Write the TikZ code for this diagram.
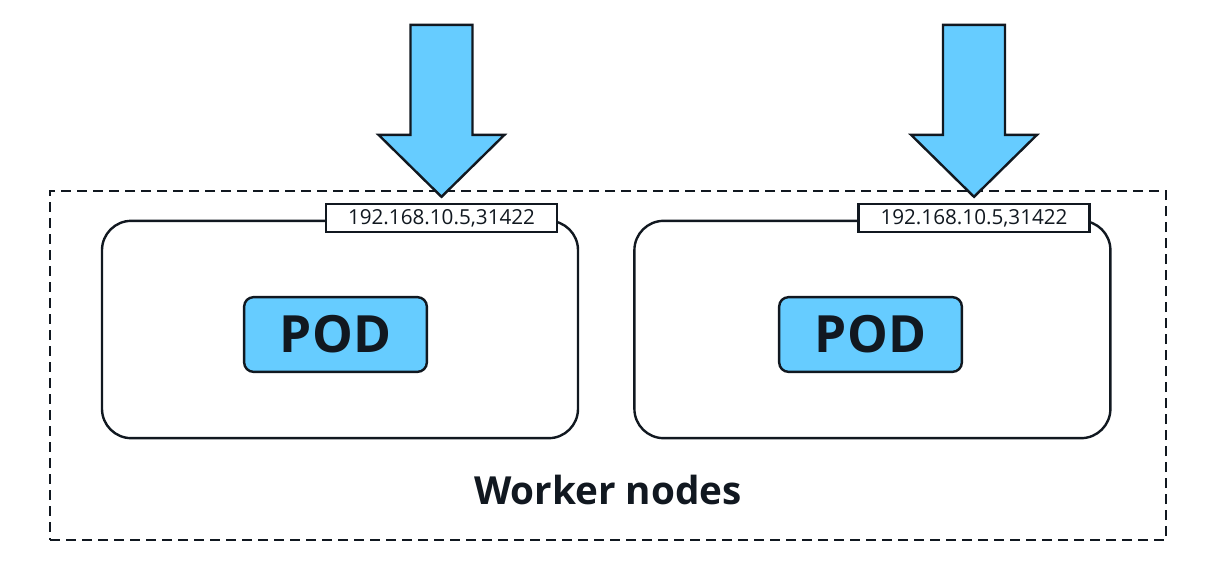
\documentclass[tikz,border=0pt]{standalone}
\usepackage{fontspec}
\setmainfont{Open Sans}
\usetikzlibrary{positioning}
\definecolor{podblue}{HTML}{66CCFF}
\definecolor{ink}{HTML}{111820}

\begin{document}
\begin{tikzpicture}[x=0.75pt,y=-0.75pt,text=ink,
  wnode/.style={draw=ink,line width=1.8pt,rounded corners=22pt,minimum width=357pt,minimum height=163pt},
  pod/.style={draw=ink,fill=podblue,line width=1.8pt,rounded corners=7pt,minimum width=137pt,minimum height=56pt,inner sep=0pt,font=\bfseries\fontsize{38.5}{40}\selectfont},
  lbl/.style={draw=ink,fill=white,line width=1.8pt,minimum width=173pt,minimum height=21pt,inner sep=0pt,font=\fontsize{15.5}{17}\selectfont},
  bigarrow/.style={draw=ink,fill=podblue,line width=1.8pt,line join=miter}]
  \useasboundingbox (0,0) rectangle (1210,564);
  % cluster of worker nodes
  \node[draw=ink,line width=1.1pt,dash pattern=on 7.5pt off 4.5pt,minimum width=837pt,minimum height=261.75pt] (workers) at (608,365.5) {};
  \node[font=\bfseries\fontsize{29}{32}\selectfont] (wlbl) at (608,490) {Worker nodes};
  \node[wnode] (nodeL) at (340,329.5) {};
  \node[wnode,right=40.5pt of nodeL] (nodeR) {};
  \node[pod] (podL) at (335.5,334.5) {POD};
  \node[pod] (podR) at (870.5,334.5) {POD};
  \node[lbl] (lblL) at (441.5,218) {192.168.10.5,31422};
  \node[lbl] (lblR) at (974,218) {192.168.10.5,31422};
  % incoming traffic
  \foreach \l in {lblL,lblR}
    \draw[bigarrow] ([yshift=4.5pt]\l.north) -- ++(-63,-62) -- ++(32,0) -- ++(0,-110) -- ++(62,0) -- ++(0,110) -- ++(32,0) -- cycle;
\end{tikzpicture}
\end{document}
